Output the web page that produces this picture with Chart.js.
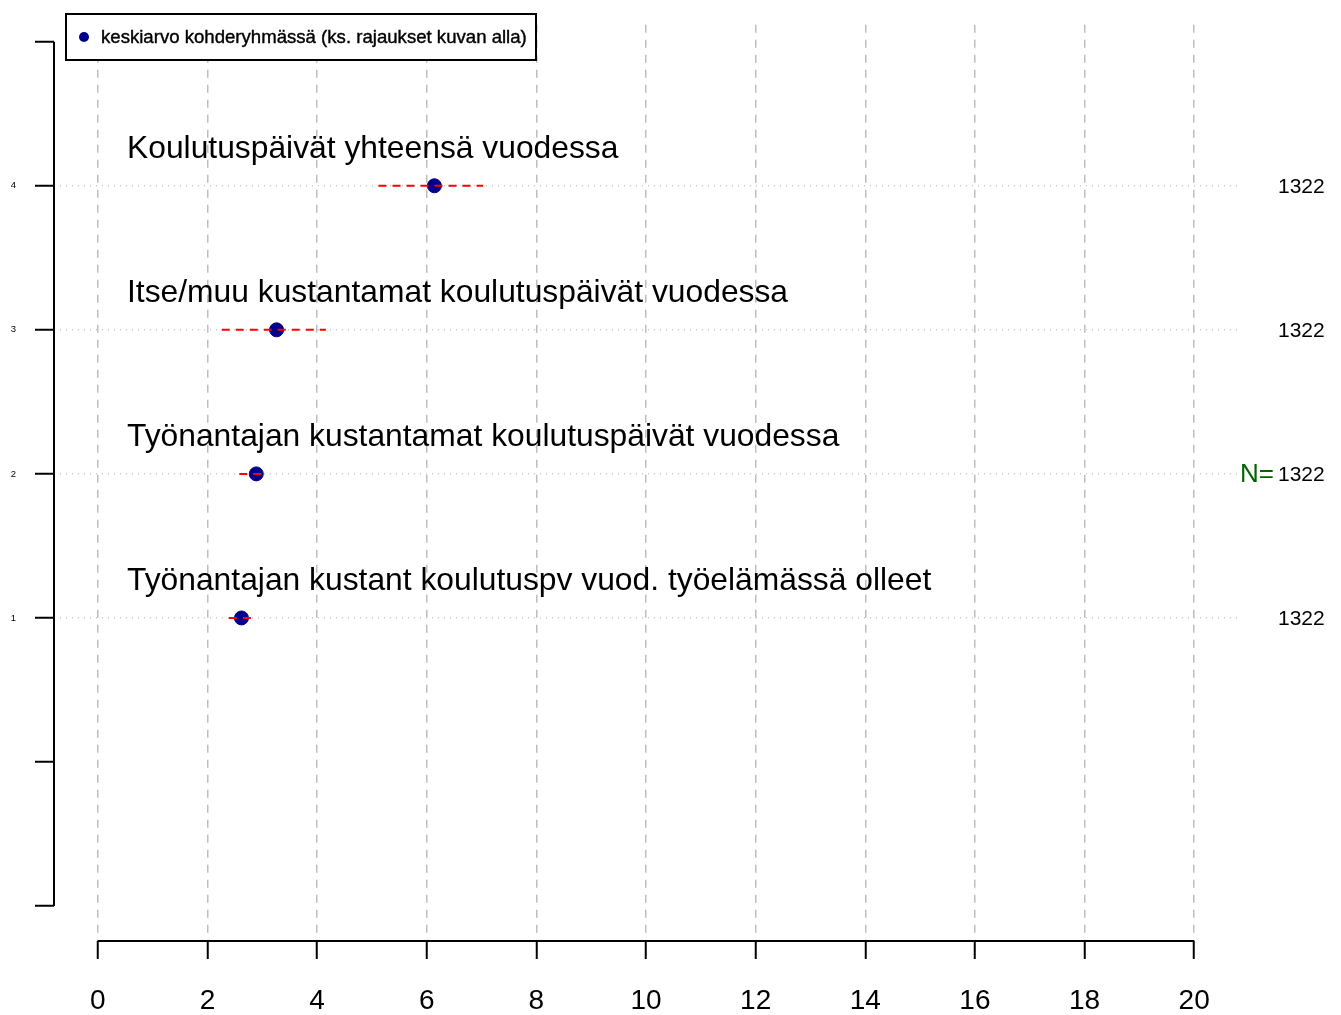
<!DOCTYPE html>
<html>
<head>
<meta charset="utf-8">
<script src="https://cdn.jsdelivr.net/npm/chart.js@4/dist/chart.umd.min.js"></script>
<style>
  body { margin: 0; background: #fff; }
  canvas { display: block; }
</style>
</head>
<body>
<canvas id="myChart" width="1341" height="1015"></canvas>
<script>
"use strict";
// rows from bottom (y=1) to top (y=4)
const categories = [
    'Työnantajan kustant koulutuspv vuod. työelämässä olleet',
    'Työnantajan kustantamat koulutuspäivät vuodessa',
    'Itse/muu kustantamat koulutuspäivät vuodessa',
    'Koulutuspäivät yhteensä vuodessa'
];
const means = [2.62, 2.89, 3.26, 6.14];
const lower = [2.39, 2.58, 2.26, 5.12];
const upper = [2.81, 3.04, 4.16, 7.03];
const counts = [1322, 1322, 1322, 1322];
const xTicks = [0, 2, 4, 6, 8, 10, 12, 14, 16, 18, 20];
const yTicks = [-1, 0, 1, 2, 3, 4, 5];
const legendLabel = 'keskiarvo kohderyhmässä (ks. rajaukset kuvan alla)';
const nLabel = 'N=';

const FONT = '"Liberation Sans", Arial, sans-serif';

let datasets = [];
// mean points
datasets.push({
    type: 'scatter',
    label: legendLabel,
    data: means.map((m, i) => ({ x: m, y: i + 1 })),
    backgroundColor: '#00008B',
    borderColor: '#00008B',
    pointRadius: 7,
    order: 2
});
// interval lines
for (let i = 0; i < categories.length; i++) {
    datasets.push({
        type: 'line',
        data: [{ x: lower[i], y: i + 1 }, { x: upper[i], y: i + 1 }],
        borderColor: '#FF0000',
        borderWidth: 2,
        borderDash: [8, 6],
        pointRadius: 0,
        order: 1
    });
}

// axis lines, row titles, counts and legend box
const extras = {
    id: 'extras',
    afterDraw(chart) {
        const ctx = chart.ctx;
        const xs = chart.scales.x;
        const ys = chart.scales.y;
        const area = chart.chartArea;
        ctx.save();
        ctx.strokeStyle = '#000';
        ctx.lineWidth = 2;
        ctx.setLineDash([]);
        // x axis
        ctx.beginPath();
        ctx.moveTo(xs.getPixelForValue(xTicks[0]), area.bottom);
        ctx.lineTo(xs.getPixelForValue(xTicks[xTicks.length - 1]), area.bottom);
        ctx.stroke();
        // y axis
        ctx.beginPath();
        ctx.moveTo(area.left, ys.getPixelForValue(yTicks[yTicks.length - 1]));
        ctx.lineTo(area.left, ys.getPixelForValue(yTicks[0]));
        ctx.stroke();

        // row titles
        ctx.fillStyle = '#000';
        ctx.font = '31.8px ' + FONT;
        ctx.textAlign = 'left';
        ctx.textBaseline = 'alphabetic';
        for (let i = 0; i < categories.length; i++) {
            const py = ys.getPixelForValue(i + 1);
            ctx.fillText(categories[i], 127, py - 28);
        }
        // counts
        ctx.font = '21px ' + FONT;
        ctx.textBaseline = 'middle';
        for (let i = 0; i < counts.length; i++) {
            const py = ys.getPixelForValue(i + 1);
            ctx.fillText(String(counts[i]), 1278, py + 1);
        }
        ctx.fillStyle = '#006400';
        ctx.font = '26px ' + FONT;
        ctx.textAlign = 'right';
        ctx.fillText(nLabel, 1274, ys.getPixelForValue(2) + 1);

        // legend
        ctx.fillStyle = '#fff';
        ctx.fillRect(66, 14, 470, 46);
        ctx.strokeStyle = '#000';
        ctx.lineWidth = 2;
        ctx.strokeRect(66, 14, 470, 46);
        ctx.fillStyle = '#00008B';
        ctx.beginPath();
        ctx.arc(84, 37, 5, 0, Math.PI * 2);
        ctx.fill();
        ctx.fillStyle = '#000';
        ctx.strokeStyle = '#000';
        ctx.lineWidth = 0.4;
        ctx.font = '18.6px ' + FONT;
        ctx.textAlign = 'left';
        ctx.textBaseline = 'middle';
        ctx.fillText(legendLabel, 101, 38);
        ctx.strokeText(legendLabel, 101, 38);
        ctx.restore();
    }
};

const config = {
    data: { datasets: datasets },
    plugins: [extras],
    options: {
        responsive: false,
        animation: false,
        devicePixelRatio: 1,
        layout: { padding: { top: 5, right: 103, left: 0, bottom: 0 } },
        plugins: { legend: { display: false }, tooltip: { enabled: false } },
        scales: {
            x: {
                type: 'linear',
                min: -0.8,
                max: 20.8,
                afterBuildTicks: (scale) => { scale.ticks = xTicks.map(v => ({ value: v })); },
                afterFit: (scale) => { scale.height = 74; },
                border: { display: false, dash: [8, 7] },
                grid: {
                    color: '#BEBEBE',
                    lineWidth: 1.5,
                    tickColor: '#000',
                    tickWidth: 2,
                    tickLength: 18,
                    tickBorderDash: []
                },
                ticks: {
                    color: '#000',
                    font: { family: FONT, size: 28 },
                    padding: 25,
                    maxRotation: 0,
                    autoSkip: false
                }
            },
            y: {
                type: 'linear',
                min: -1.2425,
                max: 5.118,
                afterBuildTicks: (scale) => { scale.ticks = yTicks.map(v => ({ value: v })); },
                afterFit: (scale) => { scale.width = 54; },
                border: { display: false, dash: [1, 5] },
                grid: {
                    color: (c) => (c.tick && c.tick.value >= 1 && c.tick.value <= 4) ? '#C8C8C8' : 'rgba(0,0,0,0)',
                    lineWidth: 1.5,
                    tickColor: '#000',
                    tickWidth: 2,
                    tickLength: 19,
                    tickBorderDash: []
                },
                ticks: {
                    color: '#000',
                    font: { family: FONT, size: 9.5 },
                    padding: 19,
                    autoSkip: false,
                    callback: (v) => (v >= 1 && v <= 4) ? String(v) : ''
                }
            }
        }
    }
};

let canvasChart = document.getElementById('myChart');
const myChart = new Chart(canvasChart, config);
</script>
</body>
</html>
